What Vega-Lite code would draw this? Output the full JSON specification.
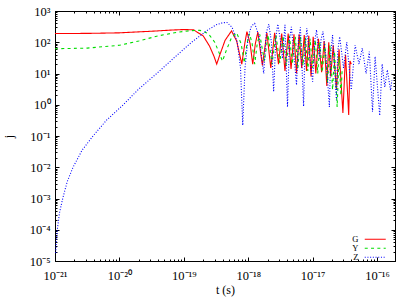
{
  "$schema": "https://vega.github.io/schema/vega-lite/v6.json",
  "autosize": "none",
  "width": 340,
  "height": 250,
  "padding": {"left": 55, "top": 11, "right": 20, "bottom": 36},
  "background": "white",
  "config": {
    "view": {"stroke": "#000", "strokeWidth": 1},
    "font": "Liberation Serif",
    "axis": {"domainColor": "#000", "tickColor": "#000", "labelFont": "Liberation Serif", "titleFont": "Liberation Serif", "labelColor": "#000", "titleColor": "#000", "grid": false, "labelOverlap": false, "labelFlush": false, "labelBound": false}
  },
  "data": {"values": [
    {"s":"G","t":1e-21,"j":190},{"s":"G","t":3.16e-21,"j":192},{"s":"G","t":1e-20,"j":200},{"s":"G","t":3.16e-20,"j":225},{"s":"G","t":6.31e-20,"j":245},{"s":"G","t":1e-19,"j":255},{"s":"G","t":1.41e-19,"j":250},{"s":"G","t":2.0e-19,"j":160},{"s":"G","t":2.51e-19,"j":75},{"s":"G","t":2.95e-19,"j":35},{"s":"G","t":3.24e-19,"j":20},{"s":"G","t":3.63e-19,"j":40},{"s":"G","t":4.37e-19,"j":115},{"s":"G","t":5.5e-19,"j":230},{"s":"G","t":6.61e-19,"j":110},{"s":"G","t":7.94e-19,"j":20},{"s":"G","t":8.91e-19,"j":100},{"s":"G","t":9.55e-19,"j":220},{"s":"G","t":1.07e-18,"j":90},{"s":"G","t":1.175e-18,"j":20},{"s":"G","t":1.29e-18,"j":90},{"s":"G","t":1.41e-18,"j":210},{"s":"G","t":1.66e-18,"j":18},{"s":"G","t":1.95e-18,"j":200},{"s":"G","t":2.24e-18,"j":15},{"s":"G","t":2.57e-18,"j":200},{"s":"G","t":2.95e-18,"j":20},{"s":"G","t":3.31e-18,"j":190},{"s":"G","t":3.72e-18,"j":12},{"s":"G","t":4.17e-18,"j":190},{"s":"G","t":4.62e-18,"j":14},{"s":"G","t":5.13e-18,"j":180},{"s":"G","t":5.62e-18,"j":10},{"s":"G","t":6.17e-18,"j":180},{"s":"G","t":6.76e-18,"j":15},{"s":"G","t":7.41e-18,"j":170},{"s":"G","t":8.04e-18,"j":12},{"s":"G","t":8.71e-18,"j":160},{"s":"G","t":9.44e-18,"j":8},{"s":"G","t":1.02e-17,"j":150},{"s":"G","t":1.12e-17,"j":10},{"s":"G","t":1.23e-17,"j":130},{"s":"G","t":1.38e-17,"j":11},{"s":"G","t":1.51e-17,"j":110},{"s":"G","t":1.66e-17,"j":4},{"s":"G","t":1.78e-17,"j":100},{"s":"G","t":1.905e-17,"j":8},{"s":"G","t":2.09e-17,"j":80},{"s":"G","t":2.34e-17,"j":3},{"s":"G","t":2.57e-17,"j":60},{"s":"G","t":2.95e-17,"j":0.55},{"s":"G","t":3.24e-17,"j":40},{"s":"G","t":3.63e-17,"j":0.47},{"s":"G","t":3.8e-17,"j":25},{"s":"G","t":3.98e-17,"j":20},
    {"s":"Y","t":1e-21,"j":62},{"s":"Y","t":3.16e-21,"j":65},{"s":"Y","t":1e-20,"j":80},{"s":"Y","t":2.0e-20,"j":110},{"s":"Y","t":3.98e-20,"j":160},{"s":"Y","t":7.94e-20,"j":210},{"s":"Y","t":1.26e-19,"j":235},{"s":"Y","t":1.78e-19,"j":240},{"s":"Y","t":2.4e-19,"j":190},{"s":"Y","t":3.02e-19,"j":100},{"s":"Y","t":3.55e-19,"j":45},{"s":"Y","t":3.98e-19,"j":25},{"s":"Y","t":4.57e-19,"j":55},{"s":"Y","t":5.5e-19,"j":140},{"s":"Y","t":6.61e-19,"j":200},{"s":"Y","t":7.76e-19,"j":90},{"s":"Y","t":8.71e-19,"j":22},{"s":"Y","t":9.55e-19,"j":90},{"s":"Y","t":1.047e-18,"j":190},{"s":"Y","t":1.15e-18,"j":90},{"s":"Y","t":1.26e-18,"j":20},{"s":"Y","t":1.38e-18,"j":90},{"s":"Y","t":1.51e-18,"j":180},{"s":"Y","t":1.78e-18,"j":25},{"s":"Y","t":2.04e-18,"j":170},{"s":"Y","t":2.34e-18,"j":20},{"s":"Y","t":2.69e-18,"j":170},{"s":"Y","t":3.09e-18,"j":22},{"s":"Y","t":3.47e-18,"j":160},{"s":"Y","t":3.89e-18,"j":18},{"s":"Y","t":4.37e-18,"j":160},{"s":"Y","t":4.84e-18,"j":20},{"s":"Y","t":5.37e-18,"j":150},{"s":"Y","t":5.89e-18,"j":15},{"s":"Y","t":6.46e-18,"j":150},{"s":"Y","t":7.08e-18,"j":18},{"s":"Y","t":7.76e-18,"j":140},{"s":"Y","t":8.41e-18,"j":12},{"s":"Y","t":9.12e-18,"j":130},{"s":"Y","t":1.0e-17,"j":15},{"s":"Y","t":1.1e-17,"j":120},{"s":"Y","t":1.2e-17,"j":10},{"s":"Y","t":1.29e-17,"j":100},{"s":"Y","t":1.41e-17,"j":11},{"s":"Y","t":1.55e-17,"j":90},{"s":"Y","t":1.7e-17,"j":5},{"s":"Y","t":1.86e-17,"j":80},{"s":"Y","t":2.04e-17,"j":3},{"s":"Y","t":2.19e-17,"j":50},{"s":"Y","t":2.4e-17,"j":0.85},{"s":"Y","t":2.57e-17,"j":35},{"s":"Y","t":2.75e-17,"j":2},{"s":"Y","t":2.88e-17,"j":15},
    {"s":"Z","t":1.026e-21,"j":1.8e-5},{"s":"Z","t":1.047e-21,"j":4e-5},{"s":"Z","t":1.086e-21,"j":1e-4},{"s":"Z","t":1.175e-21,"j":3.5e-4},{"s":"Z","t":1.318e-21,"j":1e-3},{"s":"Z","t":1.549e-21,"j":3.5e-3},{"s":"Z","t":1.905e-21,"j":1e-2},{"s":"Z","t":2.63e-21,"j":3.5e-2},{"s":"Z","t":3.89e-21,"j":0.1},{"s":"Z","t":6.31e-21,"j":0.32},{"s":"Z","t":1.148e-20,"j":1},{"s":"Z","t":2.0e-20,"j":3.2},{"s":"Z","t":3.8e-20,"j":10},{"s":"Z","t":7.08e-20,"j":32},{"s":"Z","t":1.32e-19,"j":100},{"s":"Z","t":2.24e-19,"j":230},{"s":"Z","t":3.16e-19,"j":360},{"s":"Z","t":3.98e-19,"j":420},{"s":"Z","t":4.68e-19,"j":430},{"s":"Z","t":5.62e-19,"j":300},{"s":"Z","t":6.76e-19,"j":100},{"s":"Z","t":7.59e-19,"j":15},{"s":"Z","t":8.22e-19,"j":0.22},{"s":"Z","t":8.91e-19,"j":15},{"s":"Z","t":1.0e-18,"j":150},{"s":"Z","t":1.12e-18,"j":330},{"s":"Z","t":1.26e-18,"j":400},{"s":"Z","t":1.48e-18,"j":150},{"s":"Z","t":1.74e-18,"j":10},{"s":"Z","t":1.905e-18,"j":200},{"s":"Z","t":2.09e-18,"j":380},{"s":"Z","t":2.29e-18,"j":100},{"s":"Z","t":2.48e-18,"j":2.6},{"s":"Z","t":2.69e-18,"j":150},{"s":"Z","t":2.88e-18,"j":380},{"s":"Z","t":3.16e-18,"j":120},{"s":"Z","t":3.39e-18,"j":30},{"s":"Z","t":3.72e-18,"j":360},{"s":"Z","t":4.07e-18,"j":0.85},{"s":"Z","t":4.37e-18,"j":120},{"s":"Z","t":4.68e-18,"j":310},{"s":"Z","t":5.13e-18,"j":40},{"s":"Z","t":5.62e-18,"j":4.3},{"s":"Z","t":6.03e-18,"j":120},{"s":"Z","t":6.46e-18,"j":300},{"s":"Z","t":7.24e-18,"j":0.9},{"s":"Z","t":7.59e-18,"j":60},{"s":"Z","t":8.13e-18,"j":280},{"s":"Z","t":8.91e-18,"j":40},{"s":"Z","t":1.0e-17,"j":5.5},{"s":"Z","t":1.07e-17,"j":100},{"s":"Z","t":1.15e-17,"j":250},{"s":"Z","t":1.23e-17,"j":60},{"s":"Z","t":1.29e-17,"j":30},{"s":"Z","t":1.35e-17,"j":120},{"s":"Z","t":1.445e-17,"j":220},{"s":"Z","t":1.62e-17,"j":30},{"s":"Z","t":1.82e-17,"j":0.85},{"s":"Z","t":1.905e-17,"j":40},{"s":"Z","t":2.04e-17,"j":170},{"s":"Z","t":2.34e-17,"j":1.4},{"s":"Z","t":2.45e-17,"j":50},{"s":"Z","t":2.63e-17,"j":150},{"s":"Z","t":3.02e-17,"j":15},{"s":"Z","t":3.39e-17,"j":100},{"s":"Z","t":3.98e-17,"j":3},{"s":"Z","t":4.57e-17,"j":80},{"s":"Z","t":5.25e-17,"j":20},{"s":"Z","t":5.89e-17,"j":65},{"s":"Z","t":6.76e-17,"j":10},{"s":"Z","t":7.59e-17,"j":50},{"s":"Z","t":8.51e-17,"j":0.6},{"s":"Z","t":9.33e-17,"j":35},{"s":"Z","t":1.1e-16,"j":0.45},{"s":"Z","t":1.2e-16,"j":20},{"s":"Z","t":1.32e-16,"j":3.7},{"s":"Z","t":1.445e-16,"j":13},{"s":"Z","t":1.62e-16,"j":2.9},{"s":"Z","t":1.7e-16,"j":6}
  ]},
  "layer": [
    {
      "mark": {"type": "line", "strokeWidth": 1.1, "clip": true},
      "encoding": {
        "x": {"field": "t", "type": "quantitative",
          "scale": {"type": "log", "domain": [1e-21, 1.9e-16], "nice": false},
          "axis": {"orient": "bottom", "title": "t (s)", "titleFontSize": 12, "titleFontWeight": "normal",
            "titleX": 170, "titleY": 28, "titleBaseline": "middle", "titleAlign": "center",
            "tickCount": 30, "labelFontSize": 12.5, "labelPadding": 12,
            "tickSize": {"condition": {"test": "abs(log(datum.value)/LN10 - round(log(datum.value)/LN10)) < 1e-6", "value": -4}, "value": -2},
            "labelExpr": "abs(log(datum.value)/LN10 - round(log(datum.value)/LN10)) < 1e-6 ? '10' + replace(replace(replace(replace(replace(replace(replace(replace(replace(replace(replace('' + round(log(datum.value)/LN10), '-', '⁻'), '0', '⁰'), '1', '¹'), '2', '²'), '3', '³'), '4', '⁴'), '5', '⁵'), '6', '⁶'), '7', '⁷'), '8', '⁸'), '9', '⁹') : ''"}},
        "y": {"field": "j", "type": "quantitative",
          "scale": {"type": "log", "domain": [1e-5, 1000], "nice": false},
          "axis": {"orient": "left", "title": "j", "titleFontSize": 12, "titleFontWeight": "normal",
            "titleX": -47, "titleY": 125, "titleBaseline": "middle", "titleAlign": "center",
            "tickCount": 30, "labelFontSize": 12.5, "labelPadding": 9,
            "tickSize": {"condition": {"test": "abs(log(datum.value)/LN10 - round(log(datum.value)/LN10)) < 1e-6", "value": -4}, "value": -2},
            "labelExpr": "abs(log(datum.value)/LN10 - round(log(datum.value)/LN10)) < 1e-6 ? '10' + replace(replace(replace(replace(replace(replace(replace(replace(replace(replace(replace('' + round(log(datum.value)/LN10), '-', '⁻'), '0', '⁰'), '1', '¹'), '2', '²'), '3', '³'), '4', '⁴'), '5', '⁵'), '6', '⁶'), '7', '⁷'), '8', '⁸'), '9', '⁹') : ''"}},
        "color": {"field": "s", "type": "nominal",
          "scale": {"domain": ["G", "Y", "Z"], "range": ["#ff0000", "#00dd00", "#0000ff"]},
          "legend": {"orient": "none", "legendX": 316, "legendY": 224, "title": null, "padding": 0,
            "symbolType": "M-4,0H4", "symbolSize": 27.6, "symbolStrokeWidth": 1.2,
            "labelFont": "Liberation Serif", "labelFontSize": 8.5, "labelColor": "#000",
            "labelAlign": "right", "labelOffset": -21, "rowPadding": -1}},
        "strokeDash": {"field": "s", "type": "nominal",
          "scale": {"domain": ["G", "Y", "Z"], "range": [[1, 0], [3, 3.3], [1, 1.7]]}}
      }
    },
    {
      "mark": {"type": "point", "opacity": 0},
      "encoding": {
        "x": {"field": "t", "type": "quantitative",
          "axis": {"orient": "top", "title": null, "labels": false, "tickCount": 30,
            "tickSize": {"condition": {"test": "abs(log(datum.value)/LN10 - round(log(datum.value)/LN10)) < 1e-6", "value": -4}, "value": -2}}},
        "y": {"field": "j", "type": "quantitative",
          "axis": {"orient": "right", "title": null, "labels": false, "tickCount": 30,
            "tickSize": {"condition": {"test": "abs(log(datum.value)/LN10 - round(log(datum.value)/LN10)) < 1e-6", "value": -4}, "value": -2}}}
      }
    }
  ],
  "resolve": {"axis": {"x": "independent", "y": "independent"}}
}
